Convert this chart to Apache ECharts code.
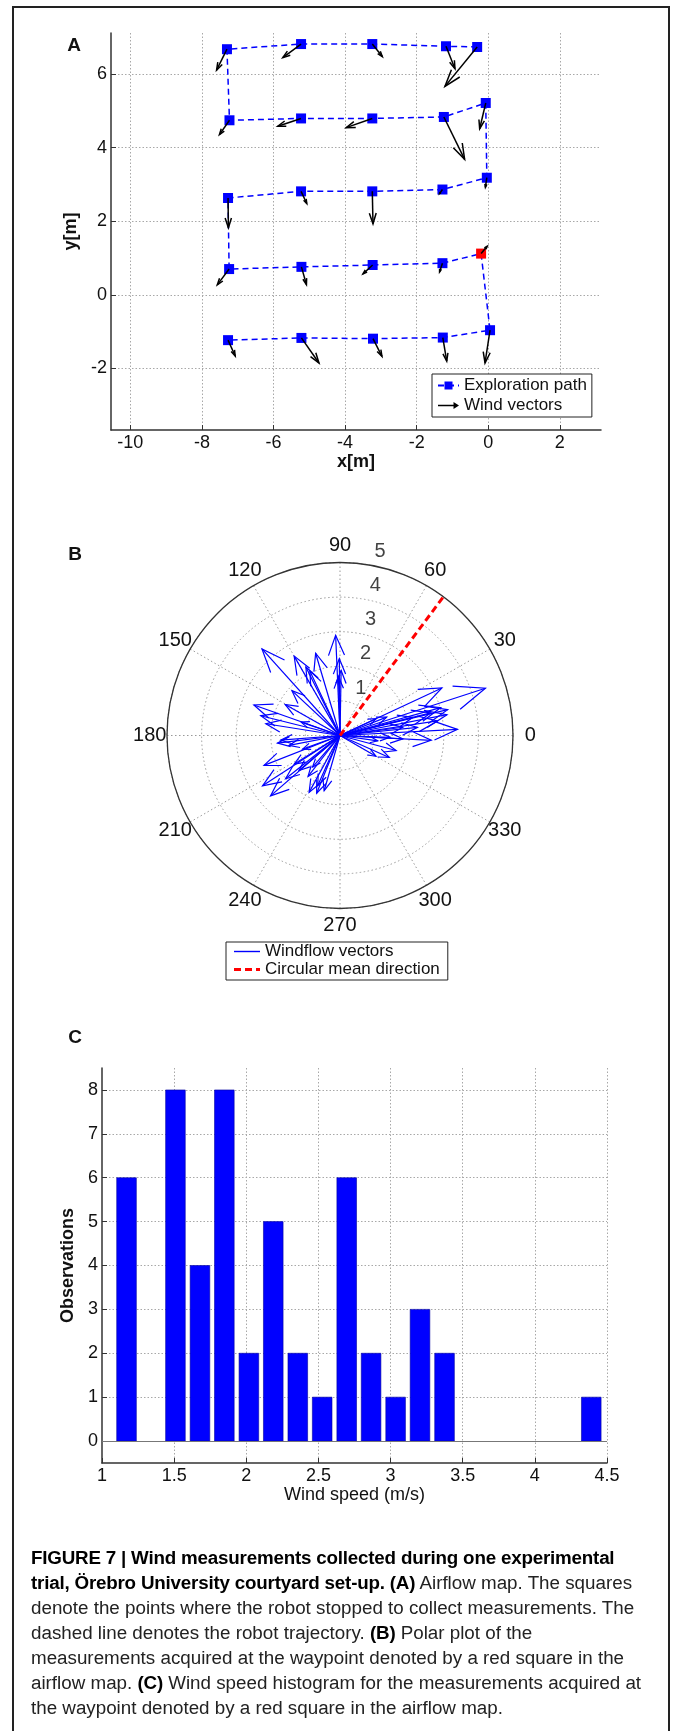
<!DOCTYPE html>
<html>
<head>
<meta charset="utf-8">
<script src="https://cdn.jsdelivr.net/npm/echarts@6/dist/echarts.min.js"></script>
<style>
html,body{margin:0;padding:0;background:#fff;}
#wrap{position:relative;width:673px;height:1731px;overflow:hidden;background:#fff;}
#chart{position:absolute;left:0;top:0;width:673px;height:1731px;}
#frame{position:absolute;left:12px;top:6px;width:654px;height:1760px;border:2px solid #222;}
#caption{position:absolute;left:31px;top:1545px;font-family:"Liberation Sans",Arial,Helvetica,sans-serif;font-size:18.8px;line-height:25px;color:#222;white-space:nowrap;}
#caption b{color:#000;letter-spacing:-0.2px;}
</style>
</head>
<body>
<div id="wrap">
  <div id="frame"></div>
  <div id="chart"></div>
  <div id="caption"><b>FIGURE 7 | Wind measurements collected during one experimental</b><br><b>trial, Örebro University courtyard set-up. (A)</b> Airflow map. The squares<br>denote the points where the robot stopped to collect measurements. The<br>dashed line denotes the robot trajectory. <b>(B)</b> Polar plot of the<br>measurements acquired at the waypoint denoted by a red square in the<br>airflow map. <b>(C)</b> Wind speed histogram for the measurements acquired at<br>the waypoint denoted by a red square in the airflow map.</div>
</div>
<script>
// ---------- Panel A: exploration path (waypoints in visiting order) ----------
const pathX = [-0.31, -1.18, -3.24, -5.23, -7.30,
               -7.23, -5.23, -3.24, -1.24, -0.07,
               -0.04, -1.28, -3.24, -5.23, -7.27,
               -7.24, -5.22, -3.23, -1.28, -0.20,
                0.05, -1.27, -3.22, -5.22, -7.27];
const pathY = [ 6.73,  6.75,  6.81,  6.81,  6.67,
                4.74,  4.79,  4.79,  4.83,  5.21,
                3.18,  2.86,  2.81,  2.81,  2.63,
                0.70,  0.76,  0.81,  0.86,  1.12,
               -0.96, -1.16, -1.19, -1.17, -1.23];
// wind vectors at each waypoint (u, v)
const windU = [-0.90,  0.25,  0.28, -0.51, -0.29,
               -0.28, -0.65, -0.73,  0.58, -0.17,
               -0.04, -0.08,  0.02,  0.16,  0.01,
               -0.33,  0.14, -0.27, -0.08,  0.17,
               -0.14,  0.11,  0.25,  0.49,  0.20];
const windV = [-1.07, -0.61, -0.34, -0.37, -0.57,
               -0.39, -0.21, -0.25, -1.15, -0.70,
               -0.26, -0.11, -0.88, -0.33, -0.81,
               -0.43, -0.48, -0.24, -0.24,  0.20,
               -0.89, -0.64, -0.48, -0.68, -0.43];
const selectedIndex = 19; // red waypoint

// ---------- Panel B: windflow vectors at the red waypoint ----------
const polarSpeed = [4.42, 3.37, 3.40, 3.25, 3.15, 3.20, 3.02, 2.90, 2.85, 2.66,
                    2.67, 2.65, 2.64, 2.64, 2.70, 2.48, 2.36, 2.36, 2.21, 2.17,
                    2.22, 2.17, 2.25, 2.06, 2.01, 1.90, 1.82, 1.87, 1.83, 1.82,
                    1.82, 1.88, 1.80, 1.66, 1.68, 1.72, 1.70, 1.50, 1.56, 1.56,
                    1.58, 1.56, 1.45, 1.45, 1.50, 1.19, 1.21, 1.10, 1.15, 1.15,
                    1.20];
const polarDir   = [18, 132, 3, 25, 11, 13.5, 15.5, 92.5, 8.5, 221,
                    213, 120, 160.5, 357, 14, 106.5, 201.5, 166, 116.5, 171,
                    90.5, 14, 6, 115, 218.5, 137, 187, 241.5, 7.5, 357,
                    150.5, 89, 248, 254, 345, 184.5, 91.5, 191, 212, 220.5,
                    246, 336, 358, 21.5, 232, 161, 229, 352, 25, 200,
                    330];
const meanDirection = 53.3;
const radiusTicks = [1, 2, 3, 4, 5];
const angleTicks = [0, 30, 60, 90, 120, 150, 180, 210, 240, 270, 300, 330];

// ---------- Panel C: wind speed histogram ----------
const binCenters = [1.170, 1.340, 1.509, 1.679, 1.848, 2.018, 2.187, 2.357, 2.526, 2.696,
                    2.865, 3.035, 3.204, 3.374, 3.543, 3.713, 3.882, 4.052, 4.221, 4.391];
const binCounts  = [6, 0, 8, 4, 8, 2, 5, 2, 1, 6,
                    2, 1, 3, 2, 0, 0, 0, 0, 0, 1];

// ------------------------------------------------------------------
const FONT = '"Liberation Sans", Arial, Helvetica, sans-serif';
const AX = '#333';
const GRIDC = '#a8a8a8';
const BLUE = '#0000ff';

function axisCommon(extra) {
  return Object.assign({
    type: 'value',
    axisLine: { show: true, onZero: false, lineStyle: { color: AX, width: 1.5 } },
    axisTick: { show: true, inside: true, length: 5, lineStyle: { color: AX, width: 1 } },
    axisLabel: { color: '#111', fontSize: 18, fontFamily: FONT, margin: 4 },
    splitLine: { show: true, showMinLine: false, showMaxLine: false,
                 lineStyle: { color: GRIDC, width: 1, type: [1.5, 2] } },
    nameTextStyle: { color: '#111', fontSize: 18, fontFamily: FONT, fontWeight: 'bold' },
    nameLocation: 'middle'
  }, extra);
}

const pathData = pathX.map((x, i) => i === selectedIndex
  ? { value: [x, pathY[i]], itemStyle: { color: '#ff0000' } }
  : { value: [x, pathY[i]] });
const windData = pathX.map((x, i) => [x, pathY[i], windU[i], windV[i]]);
const polarData = polarSpeed.map((s, i) => [s, polarDir[i]]);
const rMax = radiusTicks[radiusTicks.length - 1];
const binWidth = binCenters[1] - binCenters[0];
const histData = binCenters.map((c, i) => [c, binCounts[i]]);

const option = {
  animation: false,
  backgroundColor: 'transparent',
  textStyle: { fontFamily: FONT },
  grid: [
    { left: 111, top: 33, width: 490, height: 397 },
    { left: 102, top: 1068, width: 505, height: 395 }
  ],
  xAxis: [
    axisCommon({ gridIndex: 0, min: -10.54, max: 3.15, minInterval: 2, maxInterval: 2, splitNumber: 7,
      name: 'x[m]', nameGap: 22,
      axisLabel: { color: '#111', fontSize: 18, fontFamily: FONT, margin: 4, showMinLabel: false, showMaxLabel: false } }),
    axisCommon({ gridIndex: 1, min: 1, max: 4.5, interval: 0.5,
      name: 'Wind speed (m/s)', nameGap: 22,
      nameTextStyle: { color: '#111', fontSize: 18, fontFamily: FONT, fontWeight: 'normal' },
      splitLine: { show: true, showMinLine: false, showMaxLine: true,
                   lineStyle: { color: GRIDC, width: 1, type: [1.5, 2] } } })
  ],
  yAxis: [
    axisCommon({ gridIndex: 0, min: -3.67, max: 7.11, minInterval: 2, maxInterval: 2, splitNumber: 5,
      name: 'y[m]', nameGap: 20,
      axisLabel: { color: '#111', fontSize: 18, fontFamily: FONT, margin: 4, showMinLabel: false, showMaxLabel: false } }),
    axisCommon({ gridIndex: 1, min: -0.5, max: 8.5, minInterval: 1, maxInterval: 1, splitNumber: 9,
      name: 'Observations', nameGap: 16,
      axisLabel: { color: '#111', fontSize: 18, fontFamily: FONT, margin: 4, showMinLabel: false, showMaxLabel: false } })
  ],
  polar: { center: [340, 735.5], radius: 173 },
  angleAxis: {
    type: 'value', min: 0, max: 360, interval: 30, startAngle: 0, clockwise: false,
    axisLine: { show: true, lineStyle: { color: AX, width: 1.3 } },
    axisTick: { show: false },
    axisLabel: { show: false },
    splitLine: { show: true, lineStyle: { color: '#999', width: 1, type: [1.5, 2.5] } }
  },
  radiusAxis: {
    type: 'value', min: 0, max: rMax, interval: 1,
    axisLine: { show: false }, axisTick: { show: false }, axisLabel: { show: false },
    splitLine: { show: true, lineStyle: { color: '#999', width: 1, type: [1.5, 2.5] } }
  },
  legend: [
    {
      left: 432, top: 374, orient: 'vertical', itemGap: 3, itemWidth: 21, itemHeight: 10,
      padding: [3, 5, 3, 5], borderColor: '#222', borderWidth: 1, backgroundColor: '#fff',
      textStyle: { fontSize: 17, color: '#111', fontFamily: FONT },
      selectedMode: false,
      data: [
        { name: 'Exploration path' },
        { name: 'Wind vectors', icon: 'path://M0,4.3H17V1.2L23,5L17,8.8V5.7H0Z' }
      ]
    },
    {
      left: 226, top: 942, orient: 'vertical', itemGap: 1, itemWidth: 26, itemHeight: 10,
      padding: [1, 8, 2, 8], borderColor: '#222', borderWidth: 1, backgroundColor: '#fff',
      textStyle: { fontSize: 17, color: '#111', fontFamily: FONT },
      selectedMode: false,
      data: [
        { name: 'Windflow vectors', icon: 'path://M0,0H26V1.4H0Z' },
        { name: 'Circular mean direction', icon: 'path://M0,0H7V3H0ZM11,0H18V3H11ZM22,0H26V3H22Z' }
      ]
    }
  ],
  graphic: [
    { type: 'text', x: 74, y: 46, style: { text: 'A', font: 'bold 19px ' + FONT, fill: '#111', align: 'center', verticalAlign: 'middle' } },
    { type: 'text', x: 75, y: 555, style: { text: 'B', font: 'bold 19px ' + FONT, fill: '#111', align: 'center', verticalAlign: 'middle' } },
    { type: 'text', x: 75, y: 1038, style: { text: 'C', font: 'bold 19px ' + FONT, fill: '#111', align: 'center', verticalAlign: 'middle' } }
  ],
  series: [
    {
      name: 'Exploration path', type: 'line', xAxisIndex: 0, yAxisIndex: 0,
      data: pathData, symbol: 'rect', symbolSize: 10, showSymbol: true,
      itemStyle: { color: BLUE },
      lineStyle: { color: BLUE, width: 1.5, type: [6, 4] },
      z: 3
    },
    {
      name: 'Wind vectors', type: 'custom', xAxisIndex: 0, yAxisIndex: 0,
      data: windData, encode: { x: 0, y: 1 },
      itemStyle: { color: '#000' },
      z: 4,
      renderItem: function (params, api) {
        const x = api.value(0), y = api.value(1), u = api.value(2), v = api.value(3);
        const a = 0.33, b = 0.33;
        const tail = api.coord([x, y]);
        const tip = api.coord([x + u, y + v]);
        const h1 = api.coord([x + u - a * (u + b * v), y + v - a * (v - b * u)]);
        const h2 = api.coord([x + u - a * (u - b * v), y + v - a * (v + b * u)]);
        const st = { stroke: '#000', lineWidth: 1.5, fill: null };
        return { type: 'group', children: [
          { type: 'polyline', shape: { points: [tail, tip] }, style: st },
          { type: 'polyline', shape: { points: [h1, tip, h2] }, style: st }
        ] };
      }
    },
    {
      name: 'Windflow vectors', type: 'custom', coordinateSystem: 'polar', polarIndex: 0,
      data: polarData, itemStyle: { color: BLUE }, z: 3,
      renderItem: function (params, api) {
        const r = api.value(0), ang = api.value(1);
        const o = api.coord([0, ang]);
        const tip = api.coord([r, ang]);
        const hr = Math.sqrt(0.8 * 0.8 + 0.08 * 0.08) * r;
        const ha = Math.atan2(0.08, 0.8) * 180 / Math.PI;
        const h1 = api.coord([hr, ang + ha]);
        const h2 = api.coord([hr, ang - ha]);
        const st = { stroke: BLUE, lineWidth: 1.2, fill: null };
        return { type: 'group', children: [
          { type: 'polyline', shape: { points: [o, tip] }, style: st },
          { type: 'polyline', shape: { points: [h1, tip, h2] }, style: st }
        ] };
      }
    },
    {
      name: 'Circular mean direction', type: 'custom', coordinateSystem: 'polar', polarIndex: 0,
      data: [[rMax, meanDirection]], itemStyle: { color: '#ff0000' }, z: 4,
      renderItem: function (params, api) {
        const r = api.value(0), ang = api.value(1);
        const o = api.coord([0, ang]), e = api.coord([r, ang]);
        return { type: 'line',
                 shape: { x1: o[0], y1: o[1], x2: e[0], y2: e[1] },
                 style: { stroke: '#ff0000', lineWidth: 3, lineDash: [7, 4], fill: null } };
      }
    },
    {
      name: 'radius labels', type: 'scatter', coordinateSystem: 'polar', polarIndex: 0, clip: false,
      data: radiusTicks.map(r => [r, 82]), symbolSize: 1, itemStyle: { color: 'rgba(0,0,0,0)' }, silent: true,
      label: { show: true, position: 'inside', offset: [16, -13], color: '#111', fontSize: 20, fontFamily: FONT,
               formatter: p => String(p.value[0]) }, z: 5
    },
    {
      name: 'angle labels', type: 'custom', coordinateSystem: 'polar', polarIndex: 0, clip: false,
      data: angleTicks.map(a => [rMax, a]), silent: true, z: 5,
      renderItem: function (params, api) {
        const ang = api.value(1);
        const p = api.coord([api.value(0) * 1.1, ang]);
        return { type: 'text', x: p[0], y: p[1],
                 style: { text: String(ang), fill: '#111', font: '20px ' + FONT,
                          align: 'center', verticalAlign: 'middle' } };
      }
    },
    {
      name: 'Observations', type: 'custom', xAxisIndex: 1, yAxisIndex: 1,
      data: histData, encode: { x: 0, y: 1 }, z: 3,
      renderItem: function (params, api) {
        const c = api.value(0), n = api.value(1);
        if (!n) return null;
        const hw = 0.4 * binWidth;
        const p0 = api.coord([c - hw, n]);
        const p1 = api.coord([c + hw, 0]);
        return { type: 'rect', shape: { x: p0[0], y: p0[1], width: p1[0] - p0[0], height: p1[1] - p0[1] },
                 style: { fill: BLUE, stroke: '#0000a0', lineWidth: 0.6 } };
      },
      markLine: { silent: true, symbol: 'none', label: { show: false },
                  lineStyle: { color: '#777', width: 1.2, type: 'solid' },
                  data: [{ yAxis: 0 }] }
    }
  ]
};

const chart = echarts.init(document.getElementById('chart'), null, { renderer: 'canvas', width: 673, height: 1731 });
chart.setOption(option);
</script>
</body>
</html>
